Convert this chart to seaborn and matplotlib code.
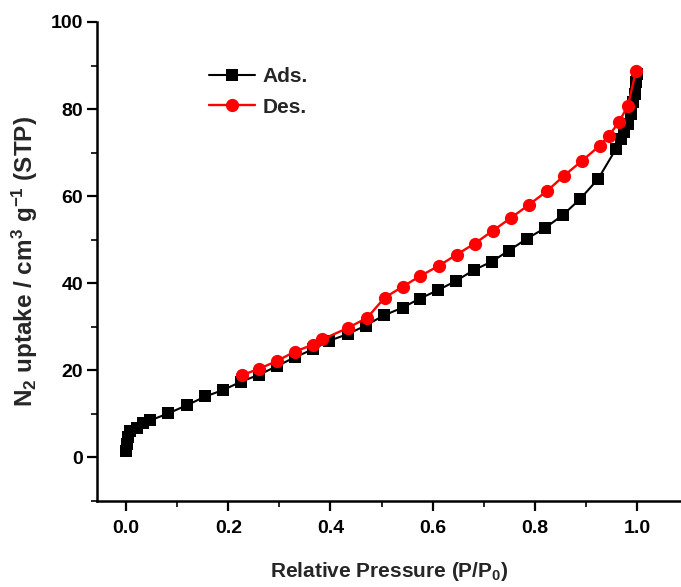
import matplotlib
matplotlib.use("Agg")
import matplotlib.pyplot as plt
import seaborn as sns
import pandas as pd

# N2 adsorption branch (P/P0, uptake)
ads_p = [0.000, 0.001, 0.003, 0.008, 0.021, 0.033, 0.047, 0.082, 0.119, 0.155,
         0.190, 0.225, 0.260, 0.296, 0.330, 0.365, 0.398, 0.435, 0.469, 0.504,
         0.541, 0.575, 0.610, 0.645, 0.680, 0.716, 0.749, 0.784, 0.820, 0.855,
         0.889, 0.924, 0.959, 0.969, 0.975, 0.982, 0.988, 0.992, 0.996, 0.998, 0.999]
ads_v = [1.4, 3.2, 4.6, 6.0, 6.7, 7.8, 8.5, 10.1, 12.0, 14.0,
         15.5, 17.4, 19.0, 21.0, 23.0, 24.8, 26.8, 28.4, 30.3, 32.6,
         34.4, 36.5, 38.4, 40.5, 43.0, 45.0, 47.5, 50.2, 52.7, 55.7,
         59.4, 64.0, 70.9, 73.2, 74.8, 76.6, 78.9, 81.6, 83.5, 86.2, 88.0]

# N2 desorption branch
des_p = [0.998, 0.982, 0.965, 0.945, 0.927, 0.892, 0.857, 0.824, 0.788, 0.753,
         0.718, 0.682, 0.647, 0.612, 0.576, 0.541, 0.506, 0.472, 0.435, 0.384,
         0.366, 0.330, 0.296, 0.261, 0.227]
des_v = [88.8, 80.8, 77.1, 73.9, 71.6, 68.1, 64.7, 61.2, 58.0, 55.0,
         52.1, 49.1, 46.6, 44.0, 41.7, 39.2, 36.7, 32.1, 29.8, 27.1,
         25.9, 24.3, 22.2, 20.4, 18.9]

x_ticks = [0.0, 0.2, 0.4, 0.6, 0.8, 1.0]
y_ticks = [0, 20, 40, 60, 80, 100]

sns.set_style("ticks")
plt.rcParams["font.family"] = ["Liberation Sans", "DejaVu Sans"]
plt.rcParams["font.weight"] = "bold"
plt.rcParams["mathtext.fontset"] = "custom"
plt.rcParams["mathtext.rm"] = "Liberation Sans:bold"
plt.rcParams["mathtext.default"] = "rm"

fig = plt.figure(figsize=(6.81, 5.87), dpi=100)
ax = fig.add_axes([97 / 681, 1 - 501 / 587, 1 - 97 / 681, (501 - 22) / 587])

ads = pd.DataFrame({"p": ads_p, "v": ads_v})
des = pd.DataFrame({"p": des_p, "v": des_v})

sns.lineplot(data=ads, x="p", y="v", sort=False, ax=ax, color="black",
             marker="s", markersize=8, markeredgewidth=0, linewidth=1.5,
             label="Ads.")
sns.lineplot(data=des, x="p", y="v", sort=False, ax=ax, color="#ff0000",
             marker="o", markersize=9.5, markeredgewidth=0, linewidth=1.7,
             label="Des.")

ax.set_xlim(-0.057, 1.086)
ax.set_ylim(-10, 100)
ax.set_xticks(x_ticks)
ax.set_xticklabels([f"{t:.1f}" for t in x_ticks])
ax.set_yticks(y_ticks)
ax.set_xticks([0.1, 0.3, 0.5, 0.7, 0.9], minor=True)
ax.set_yticks([-10, 10, 30, 50, 70, 90], minor=True)

for side in ("top", "right"):
    ax.spines[side].set_visible(False)
for side in ("left", "bottom"):
    ax.spines[side].set_linewidth(1.8)
    ax.spines[side].set_color("black")

ax.tick_params(which="major", direction="out", length=7, width=1.6,
               labelsize=14, colors="black")
ax.tick_params(axis="x", which="major", pad=7)
ax.tick_params(axis="y", which="major", pad=3)
ax.tick_params(which="minor", direction="out", length=4, width=1.4)

ax.set_xlabel("Relative Pressure (P/P$_0$)", fontsize=15, fontweight="bold",
              labelpad=16)
ax.set_ylabel("N$_2$ uptake / cm$^3$ g$^{-1}$ (STP)", fontsize=17.5,
              fontweight="bold", labelpad=8)

leg = ax.legend(loc="upper left", bbox_to_anchor=(0.16, 0.945), frameon=False,
                fontsize=15, handlelength=2.2, handletextpad=0.35,
                labelspacing=0.55)

fig.savefig("out.png", dpi=100)
